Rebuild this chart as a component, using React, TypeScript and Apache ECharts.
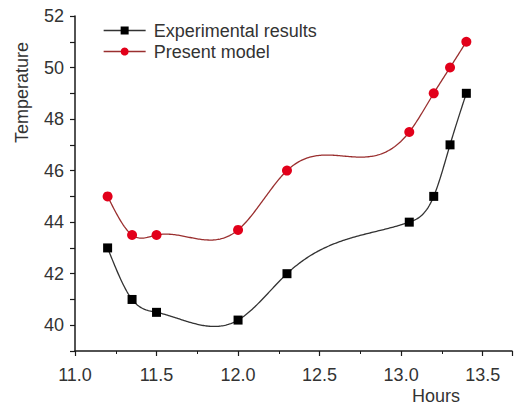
import React, { useEffect, useRef } from "react";
import * as echarts from "echarts";

const hours = [11.2, 11.35, 11.5, 12.0, 12.3, 13.05, 13.2, 13.3, 13.4];
const experimental = [43, 41, 40.5, 40.2, 42, 44, 45, 47, 49];
const presentModel = [45, 43.5, 43.5, 43.7, 46, 47.5, 49, 50, 51];

const FONT = "'Liberation Sans', Arial, sans-serif";
const EXP_LINE = "#333333";
const MOD_LINE = "#9a2f2f";
const MOD_MARK = "#e2001a";

// natural cubic spline through the data points (rendering only)
function splineEval(xs: number[], ys: number[]) {
  const n = xs.length;
  const h: number[] = [];
  for (let i = 0; i < n - 1; i++) h.push(xs[i + 1] - xs[i]);
  const a = new Array(n).fill(0);
  const b = new Array(n).fill(0);
  const c = new Array(n).fill(0);
  const d = new Array(n).fill(0);
  b[0] = 1;
  b[n - 1] = 1;
  for (let i = 1; i < n - 1; i++) {
    a[i] = h[i - 1];
    b[i] = 2 * (h[i - 1] + h[i]);
    c[i] = h[i];
    d[i] = 6 * ((ys[i + 1] - ys[i]) / h[i] - (ys[i] - ys[i - 1]) / h[i - 1]);
  }
  const cp = new Array(n).fill(0);
  const dp = new Array(n).fill(0);
  cp[0] = c[0] / b[0];
  dp[0] = d[0] / b[0];
  for (let i = 1; i < n; i++) {
    const m = b[i] - a[i] * cp[i - 1];
    cp[i] = c[i] / m;
    dp[i] = (d[i] - a[i] * dp[i - 1]) / m;
  }
  const M = new Array(n).fill(0);
  M[n - 1] = dp[n - 1];
  for (let i = n - 2; i >= 0; i--) M[i] = dp[i] - cp[i] * M[i + 1];
  return (x: number) => {
    let i = 0;
    while (i < n - 2 && x > xs[i + 1]) i++;
    const t1 = xs[i + 1] - x;
    const t0 = x - xs[i];
    const hi = h[i];
    return (
      (M[i] * t1 * t1 * t1) / (6 * hi) +
      (M[i + 1] * t0 * t0 * t0) / (6 * hi) +
      (ys[i] / hi - (M[i] * hi) / 6) * t1 +
      (ys[i + 1] / hi - (M[i + 1] * hi) / 6) * t0
    );
  };
}

function curveSeries(name: string, ys: number[], color: string) {
  const f = splineEval(hours, ys);
  return {
    name,
    type: "custom",
    silent: true,
    z: 1,
    data: [[hours[0], ys[0]]],
    renderItem: (_p: any, api: any) => {
      const pts: number[][] = [];
      const x0 = hours[0];
      const x1 = hours[hours.length - 1];
      const steps = 300;
      for (let k = 0; k <= steps; k++) {
        const x = x0 + ((x1 - x0) * k) / steps;
        pts.push(api.coord([x, f(x)]));
      }
      return {
        type: "polyline",
        shape: { points: pts },
        style: { stroke: color, lineWidth: 1.3, fill: "none" },
      };
    },
  };
}

export default function App() {
  const ref = useRef<HTMLDivElement>(null);
  useEffect(() => {
    if (!ref.current) return;
    const chart = echarts.init(ref.current, null, { renderer: "svg" });
    const axisCommon = {
      axisLine: { show: true, lineStyle: { color: "#1a1a1a", width: 1.5 } },
      axisTick: { show: true, inside: false, length: 5, lineStyle: { color: "#1a1a1a", width: 1.2 } },
      minorTick: { show: true, splitNumber: 2, length: 3, lineStyle: { color: "#1a1a1a", width: 1 } },
      splitLine: { show: false },
      axisLabel: { color: "#333", fontSize: 18, fontFamily: FONT },
    };
    chart.setOption({
      animation: false,
      grid: { left: 75, top: 16, right: 3, bottom: 56, containLabel: false },
      legend: {
        left: 103,
        top: 21,
        orient: "vertical",
        itemGap: 2,
        itemWidth: 42,
        itemHeight: 10,
        padding: 0,
        textStyle: { color: "#333", fontSize: 18, fontFamily: FONT, lineHeight: 19, padding: [0, 0, 0, 3] },
        data: [
          { name: "Experimental results", lineStyle: { color: EXP_LINE, width: 1.3, opacity: 1 } },
          { name: "Present model", lineStyle: { color: MOD_LINE, width: 1.3, opacity: 1 } },
        ],
      },
      xAxis: {
        type: "value",
        min: 11.0,
        max: 13.68,
        interval: 0.5,
        ...axisCommon,
        axisLabel: {
          ...axisCommon.axisLabel,
          margin: 15,
          formatter: (v: number) => (Math.abs(v - 13.68) < 0.01 ? "" : v.toFixed(1)),
        },
      },
      yAxis: {
        type: "value",
        min: 39,
        max: 52,
        interval: 1,
        ...axisCommon,
        minorTick: { show: false },
        axisLabel: {
          ...axisCommon.axisLabel,
          margin: 11,
          formatter: (v: number) => (v % 2 === 0 ? String(v) : ""),
        },
      },
      graphic: [
        {
          type: "text",
          x: 13,
          y: 143,
          rotation: Math.PI / 2,
          style: { text: "Temperature", fill: "#333", font: `18px ${FONT}`, verticalAlign: "top" },
        },
        {
          type: "text",
          left: 412,
          top: 387,
          style: { text: "Hours", fill: "#333", font: `18px ${FONT}` },
        },
      ],
      series: [
        curveSeries("exp-curve", experimental, EXP_LINE),
        curveSeries("mod-curve", presentModel, MOD_LINE),
        {
          name: "Experimental results",
          type: "line",
          z: 3,
          data: hours.map((h, i) => [h, experimental[i]]),
          symbol: "rect",
          symbolSize: 9,
          itemStyle: { color: "#000" },
          lineStyle: { color: EXP_LINE, width: 1.3, opacity: 0 },
        },
        {
          name: "Present model",
          type: "line",
          z: 3,
          data: hours.map((h, i) => [h, presentModel[i]]),
          symbol: "circle",
          symbolSize: 10,
          itemStyle: { color: MOD_MARK },
          lineStyle: { color: MOD_LINE, width: 1.3, opacity: 0 },
        },
      ],
    });
    return () => chart.dispose();
  }, []);
  return (
    <div
      ref={ref}
      style={{ position: "fixed", left: 0, top: 0, width: 515, height: 407, background: "#fff" }}
    />
  );
}
